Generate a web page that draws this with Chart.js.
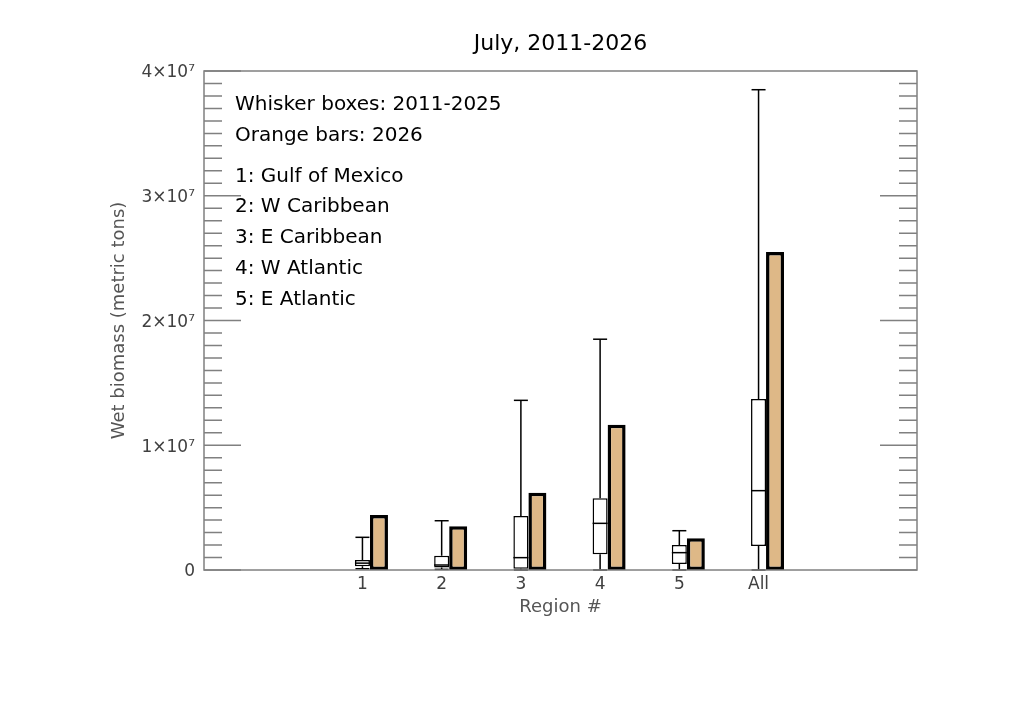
<!DOCTYPE html>
<html>
<head>
<meta charset="utf-8">
<script src="https://cdn.jsdelivr.net/npm/chart.js@4.4.1/dist/chart.umd.min.js"></script>
<style>
  html, body { margin: 0; padding: 0; background: #fff; }
  #wrap { width: 1019px; height: 712px; }
</style>
</head>
<body>
<div id="wrap"><canvas id="biomassChart"></canvas></div>
<script>
const regions = ["1", "2", "3", "4", "5", "All"];
const regionNames = ["Gulf of Mexico", "W Caribbean", "E Caribbean", "W Atlantic", "E Atlantic"];
const notes = ["Whisker boxes: 2011-2025", "Orange bars: 2026"];

// 2011-2025 spread per region (metric tons)
const boxMin = [0.1e6, 0.05e6, 0, 0, 0, 0];
const boxQ1 = [0.3e6, 0.2e6, 0.1e6, 1.26e6, 0.48e6, 1.92e6];
const boxMedian = [0.55e6, 0.4e6, 0.99e6, 3.74e6, 1.39e6, 6.36e6];
const boxQ3 = [0.8e6, 1.15e6, 4.33e6, 5.75e6, 2.0e6, 13.7e6];
const boxMax = [2.62e6, 3.95e6, 13.6e6, 18.5e6, 3.15e6, 38.5e6];

// July 2026
const july2026 = [4.4e6, 3.5e6, 6.2e6, 11.65e6, 2.55e6, 25.5e6];

const yTickValues = [0, 1e7, 2e7, 3e7, 4e7];
const yTickLabels = ["0", "1×10⁷", "2×10⁷", "3×10⁷", "4×10⁷"];

const FONT = '"DejaVu Sans", sans-serif';
const SPINE = "#808080";
const minorStep = 1e6;

// x position of each region = its index on a linear axis from -1 to 8
const px = i => i + 1;

const whiskerPts = [];
const capPts = [];
regions.forEach((r, i) => {
    const x = px(i);
    whiskerPts.push({ x, y: boxQ3[i] }, { x, y: boxMax[i] }, { x, y: null });
    whiskerPts.push({ x, y: boxMin[i] }, { x, y: boxQ1[i] }, { x, y: null });
    capPts.push({ x, y: boxMax[i] }, { x, y: boxMin[i] });
});

// inward tick marks, frame and the text block
const framePlugin = {
    id: "frame",
    afterDatasetsDraw(chart) {
        const { ctx, chartArea: a, scales: { y } } = chart;
        ctx.save();
        ctx.strokeStyle = SPINE;
        ctx.lineWidth = 1.5;
        const n = Math.round((y.max - y.min) / minorStep);
        for (let k = 0; k <= n; k++) {
            const v = y.min + k * minorStep;
            const py = y.getPixelForValue(v);
            const len = k % 10 === 0 ? 37 : 18;
            ctx.beginPath();
            ctx.moveTo(a.left, py);
            ctx.lineTo(a.left + len, py);
            ctx.moveTo(a.right, py);
            ctx.lineTo(a.right - len, py);
            ctx.stroke();
        }
        ctx.strokeRect(a.left, a.top, a.right - a.left, a.bottom - a.top);

        ctx.fillStyle = "#000";
        ctx.font = "20px " + FONT;
        ctx.textBaseline = "middle";
        ctx.textAlign = "left";
        let ty = a.top + 34;
        notes.forEach(t => { ctx.fillText(t, a.left + 31, ty); ty += 30.5; });
        ty += 10.5;
        regionNames.forEach((t, i) => { ctx.fillText((i + 1) + ": " + t, a.left + 31, ty); ty += 30.7; });
        ctx.restore();
    }
};

const ctx = document.getElementById("biomassChart").getContext("2d");

new Chart(ctx, {
    type: "bar",
    data: {
        datasets: [
            {
                type: "line",
                label: "whiskers",
                data: whiskerPts,
                borderColor: "#000",
                borderWidth: 1.5,
                pointRadius: 0,
                spanGaps: false,
                order: 0
            },
            {
                type: "line",
                label: "caps",
                data: capPts,
                showLine: false,
                pointStyle: "line",
                pointRadius: 7,
                pointBorderColor: "#000",
                pointBorderWidth: 1.5,
                clip: false,
                order: 0
            },
            {
                type: "line",
                label: "median",
                data: regions.map((r, i) => ({ x: px(i), y: boxMedian[i] })),
                showLine: false,
                pointStyle: "line",
                pointRadius: 7.5,
                pointBorderColor: "#000",
                pointBorderWidth: 1.5,
                order: 0
            },
            {
                label: "spacer",
                data: regions.map((r, i) => ({ x: px(i), y: 0 })),
                backgroundColor: "rgba(0,0,0,0)",
                borderWidth: 0,
                categoryPercentage: 0.625,
                barPercentage: 0.9,
                order: 1
            },
            {
                label: "2011-2025",
                data: regions.map((r, i) => ({ x: px(i), y: [boxQ1[i], boxQ3[i]] })),
                backgroundColor: "#fff",
                borderColor: "#000",
                borderWidth: 1.5,
                borderSkipped: false,
                categoryPercentage: 0.625,
                barPercentage: 0.91,
                order: 1
            },
            {
                label: "2026",
                data: regions.map((r, i) => ({ x: px(i), y: july2026[i] })),
                backgroundColor: "#deb887",
                borderColor: "#000",
                borderWidth: 3.5,
                borderSkipped: false,
                categoryPercentage: 0.625,
                barPercentage: 1.09,
                order: 1
            }
        ]
    },
    options: {
        responsive: true,
        maintainAspectRatio: false,
        animation: false,
        events: [],
        layout: { padding: { left: 0, right: 102, top: 0, bottom: 0 } },
        plugins: {
            legend: { display: false },
            tooltip: { enabled: false },
            title: {
                display: true,
                text: "July, 2011-2026",
                color: "#000",
                fullSize: false,
                font: { family: FONT, size: 22, weight: "normal" },
                padding: { top: 31.5, bottom: 13.1 }
            }
        },
        scales: {
            x: {
                type: "linear",
                min: -1,
                max: 8,
                offset: false,
                grid: { display: false, drawTicks: false },
                border: { display: false },
                ticks: {
                    stepSize: 1,
                    autoSkip: false,
                    maxRotation: 0,
                    padding: 4,
                    color: "#404040",
                    font: { family: FONT, size: 17 },
                    callback: v => regions[v - 1] !== undefined ? regions[v - 1] : ""
                },
                title: {
                    display: true,
                    text: "Region #",
                    color: "#555",
                    font: { family: FONT, size: 18 },
                    padding: { top: 0, bottom: 94.2 }
                },
                afterFit: s => { s.height = 142; }
            },
            y: {
                min: 0,
                max: 4e7,
                grid: { display: false, drawTicks: false },
                border: { display: false },
                afterBuildTicks: s => { s.ticks = yTickValues.map(v => ({ value: v })); },
                ticks: {
                    padding: 9,
                    labelOffset: 2,
                    color: "#404040",
                    font: { family: FONT, size: 17 },
                    callback: (v, i) => yTickLabels[i]
                },
                title: {
                    display: true,
                    text: "Wet biomass (metric tons)",
                    color: "#555",
                    font: { family: FONT, size: 18 },
                    padding: { top: 108.2, bottom: 0 }
                },
                afterFit: s => { s.width = 204; }
            }
        }
    },
    plugins: [framePlugin]
});
</script>
</body>
</html>
